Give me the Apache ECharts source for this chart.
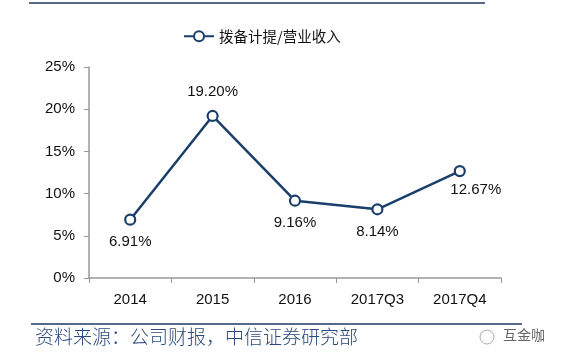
<!DOCTYPE html>
<html><head><meta charset="utf-8">
<script src="https://cdn.jsdelivr.net/npm/echarts@6/dist/echarts.min.js"></script>
<style>html,body{margin:0;padding:0;background:#fff}#c{width:562px;height:361px}</style>
</head><body><div id="c"></div>
<script>
const categories = ['2014','2015','2016','2017Q3','2017Q4'];
const ratio = [6.91, 19.20, 9.16, 8.14, 12.67];
const yTicks = [0, 5, 10, 15, 20, 25];
const seriesName = '拨备计提/营业收入';
const sourceText = '资料来源：公司财报，中信证券研究部';
const watermark = '互金咖';

const labelPos = [
  {position:'bottom', distance:9},
  {position:'top', distance:10},
  {position:'bottom', distance:9},
  {position:'bottom', distance:9},
  {position:'bottom', distance:5, offset:[16,0]}
];
const chart = echarts.init(document.getElementById('c'));
const navy = '#1b3f6b';
chart.setOption({
  animation:false,
  textStyle:{fontFamily:'Liberation Sans, Arial, sans-serif'},
  legend:{top:24,left:178,itemWidth:30,itemHeight:12,itemGap:4,
    textStyle:{fontSize:14.5,color:'#111',fontFamily:'Noto Sans CJK SC'},
    data:[{name:seriesName,icon:'path://M0,5L12,5M24,5L36,5M12,5A6,6,0,1,1,24,5A6,6,0,1,1,12,5Z'}]},
  grid:{left:89,right:61,top:67,bottom:83},
  xAxis:{type:'category',data:categories,
    axisLine:{lineStyle:{color:'#999',width:1.5}},
    axisTick:{show:true,length:5,lineStyle:{color:'#999'}},
    axisLabel:{color:'#111',fontSize:15,margin:14}},
  yAxis:{type:'value',min:0,max:25,interval:5,
    axisLine:{show:true,lineStyle:{color:'#999',width:1.5}},
    axisTick:{show:true,length:5,inside:false,lineStyle:{color:'#999'}},
    splitLine:{show:false},
    axisLabel:{color:'#111',fontSize:15,margin:14,formatter:v=>v+'%'}},
  series:[{name:seriesName,type:'line',
    data:ratio.map((v,i)=>({value:v,label:labelPos[i]})),
    symbol:'circle',symbolSize:10,
    itemStyle:{color:'#fff',borderColor:navy,borderWidth:2.2},
    lineStyle:{color:navy,width:2.5},
    label:{show:true,color:'#111',fontSize:15,formatter:p=>p.value.toFixed(2)+'%'}
  }],
  graphic:[
    {type:'line',shape:{x1:29,y1:3,x2:485,y2:3},style:{stroke:'#1f3864',lineWidth:1.5}},
    {type:'line',shape:{x1:31,y1:324,x2:522,y2:324},style:{stroke:'#1f3864',lineWidth:1.5}},
    {type:'text',left:35,top:327,style:{text:sourceText,fontSize:19,fontWeight:300,fill:'#2a4a7a',fontFamily:'Noto Sans CJK SC'}},
    {type:'text',left:503,top:328,style:{text:watermark,fontSize:14,fill:'#666',fontFamily:'Noto Sans CJK SC'}},
    {type:'circle',shape:{cx:487,cy:337,r:7},style:{fill:'none',stroke:'#aaa',lineWidth:1}}
  ]
});
</script></body></html>
